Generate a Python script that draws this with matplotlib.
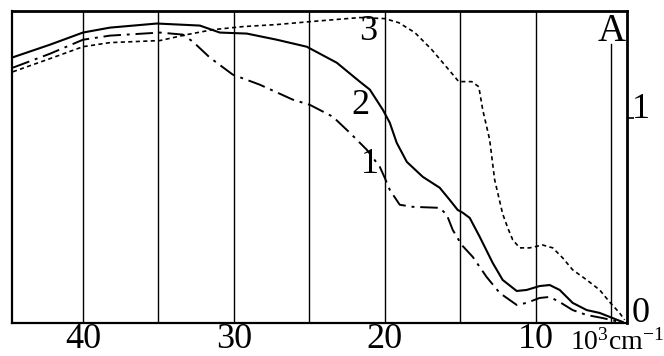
import matplotlib
matplotlib.use("Agg")
import matplotlib.pyplot as plt

plt.rcParams['font.family'] = ['Liberation Serif', 'DejaVu Serif']
plt.rcParams['mathtext.fontset'] = 'custom'
plt.rcParams['mathtext.rm'] = 'Liberation Serif'

# wavenumber, 10^3 cm^-1 ; absorbance A
x1 = [44.64, 42.18, 40.0, 38.21, 34.9, 33.38, 32.72, 31.59, 30.07, 28.28, 26.09, 24.97,
      23.44, 22.32, 21.19, 20.33, 20.0, 19.67, 19.01, 18.15, 16.36, 15.89, 15.5, 14.9,
      14.17, 13.25, 12.38, 11.26, 10.6, 9.74, 9.07, 8.41, 7.55, 6.62, 5.56, 4.44]
y1 = [1.244, 1.312, 1.38, 1.40, 1.415, 1.405, 1.371, 1.293, 1.21, 1.161, 1.088, 1.063,
      1.005, 0.927, 0.844, 0.761, 0.707, 0.649, 0.576, 0.566, 0.561, 0.527, 0.454, 0.38,
      0.322, 0.224, 0.146, 0.088, 0.098, 0.122, 0.127, 0.102, 0.063, 0.039, 0.024, 0.005]

x2 = [44.7, 42.18, 40.0, 38.21, 35.1, 32.25, 30.93, 29.14, 27.15, 25.17, 23.18, 21.66,
      20.99, 20.13, 19.67, 19.21, 18.54, 17.48, 16.36, 15.7, 15.17, 14.83, 14.37, 13.71,
      12.85, 12.19, 11.26, 10.6, 9.74, 9.07, 8.41, 7.55, 6.62, 5.76, 4.9, 4.24]
y2 = [1.293, 1.356, 1.415, 1.439, 1.459, 1.449, 1.415, 1.41, 1.38, 1.346, 1.268, 1.176,
      1.137, 1.039, 0.976, 0.878, 0.785, 0.712, 0.659, 0.60, 0.551, 0.537, 0.512, 0.42,
      0.293, 0.21, 0.156, 0.161, 0.18, 0.185, 0.161, 0.098, 0.063, 0.049, 0.024, 0.005]

x3 = [44.64, 41.99, 40.0, 38.21, 34.9, 33.11, 31.39, 29.4, 27.15, 24.97, 21.66, 20.0,
      19.07, 18.01, 16.89, 15.76, 15.1, 14.24, 13.77, 13.51, 13.05, 12.72, 12.19, 11.85,
      11.52, 11.06, 10.4, 9.54, 8.87, 8.21, 7.55, 6.62, 5.76, 5.1, 4.44, 4.11]
y3 = [1.224, 1.293, 1.346, 1.366, 1.376, 1.405, 1.429, 1.444, 1.454, 1.468, 1.488, 1.483,
      1.463, 1.415, 1.332, 1.234, 1.176, 1.176, 1.151, 1.039, 0.893, 0.698, 0.532, 0.463,
      0.405, 0.366, 0.366, 0.38, 0.366, 0.317, 0.259, 0.21, 0.161, 0.102, 0.049, 0.015]

grid_x = [40, 35, 30, 25, 20, 15, 10]
tick_x = [40, 30, 20, 10]

fig = plt.figure(figsize=(6.64, 3.56), dpi=100)
ax = fig.add_axes([12 / 664, 33 / 356, 615 / 664, 312 / 356])
ax.set_xlim(44.7, 3.95)
ax.set_ylim(0, 1.52)

for g in grid_x:
    ax.axvline(g, color='black', linewidth=1.0, zorder=1)
ax.axvline(5, ymax=0.895, color='black', linewidth=1.0, zorder=1)

ax.plot(x1, y1, color='black', linewidth=1.4, dashes=(9, 3, 1.5, 3))
ax.plot(x2, y2, color='black', linewidth=1.5)
ax.plot(x3, y3, color='black', linewidth=1.2, dashes=(2.5, 2))

for s in ax.spines.values():
    s.set_linewidth(1.6)
ax.spines['top'].set_linewidth(2.0)
ax.spines['right'].set_linewidth(2.0)

ax.set_xticks(tick_x)
ax.set_xticklabels([str(t) for t in tick_x], fontsize=26)
ax.tick_params(axis='x', length=0, pad=0)
ax.yaxis.tick_right()
ax.set_yticks([1])
ax.set_yticklabels([])
ax.tick_params(axis='y', direction='out', length=5, width=1.2)

ax.text(1.008, 1 / 1.52 + 0.025, '1', transform=ax.transAxes, fontsize=26, ha='left', va='center')
ax.text(1.008, 0.03, '0', transform=ax.transAxes, fontsize=26, ha='left', va='center')
ax.text(0.975, 0.935, 'A', transform=ax.transAxes, fontsize=28, ha='center', va='center')
ax.text(0.984, -0.062, r'$\mathrm{10^3cm^{-1}}$', transform=ax.transAxes, fontsize=20,
        ha='center', va='center')

ax.text(21.1, 1.42, '3', fontsize=26, ha='center', va='center')
ax.text(21.6, 1.06, '2', fontsize=26, ha='center', va='center')
ax.text(21.0, 0.77, '1', fontsize=26, ha='center', va='center')

fig.savefig('out.png', dpi=100)
